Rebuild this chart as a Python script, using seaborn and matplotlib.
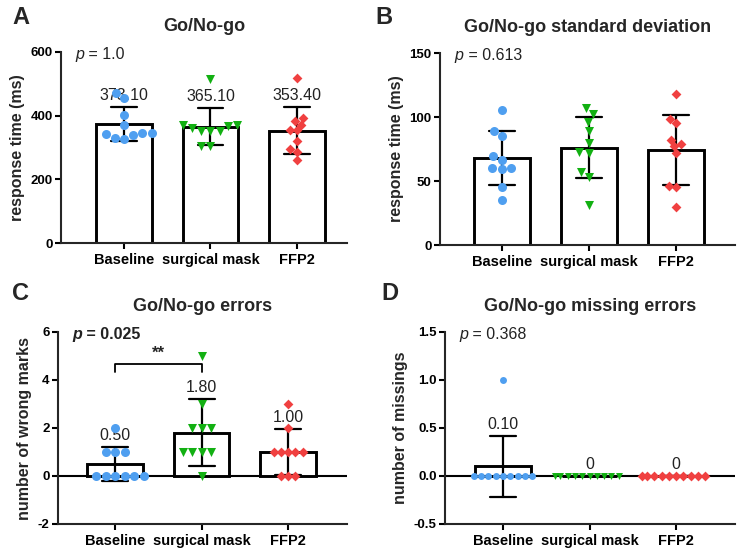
import matplotlib
matplotlib.use("Agg")
import matplotlib.pyplot as plt
import seaborn as sns
import pandas as pd
import warnings

warnings.filterwarnings("ignore")

categories = ["Baseline", "surgical mask", "FFP2"]

a_baseline = [472, 457, 401, 370, 347, 346, 341, 338, 331, 328]
a_surgical = [515, 370, 370, 368, 353, 353, 360, 352, 305, 305]
a_ffp2 = [518, 382, 393, 372, 354, 354, 319, 295, 285, 262]

b_baseline = [105.7, 89.2, 85.2, 69.9, 66.5, 60.5, 60.5, 59.2, 45.1, 35.2]
b_surgical = [107, 102, 96, 89, 80, 73, 72, 57, 53, 31]
b_ffp2 = [117.9, 95.7, 98.6, 78.8, 81.7, 77.0, 71.7, 46.2, 45.1, 29.5]

c_baseline = [2, 1, 1, 1, 0, 0, 0, 0, 0, 0]
c_surgical = [5, 3, 2, 2, 2, 1, 1, 1, 1, 0]
c_ffp2 = [3, 2, 1, 1, 1, 1, 1, 0, 0, 0]

d_baseline = [1, 0, 0, 0, 0, 0, 0, 0, 0, 0]
d_surgical = [0, 0, 0, 0, 0, 0, 0, 0, 0, 0]
d_ffp2 = [0, 0, 0, 0, 0, 0, 0, 0, 0, 0]

labels_a = ["373.10", "365.10", "353.40"]
labels_b = None
labels_c = ["0.50", "1.80", "1.00"]
labels_d = ["0.10", "0", "0"]

titles = ["Go/No-go", "Go/No-go standard deviation", "Go/No-go errors", "Go/No-go missing errors"]
ylabels = ["response time (ms)", "response time (ms)", "number of wrong marks", "number of missings"]
p_texts = ["1.0", "0.613", "0.025", "0.368"]

colors = ["#4f9ff0", "#12b012", "#f04040"]
markers = ["o", "v", "D"]
msizes = [6.5, 6.5, 5]

sns.set_style("ticks")
plt.rcParams["font.family"] = ["Liberation Sans", "DejaVu Sans"]


def make_df(groups):
    rows = []
    for cat, vals in zip(categories, groups):
        for v in vals:
            rows.append({"cond": cat, "val": v})
    return pd.DataFrame(rows)


fig = plt.figure(figsize=(7.46, 5.58), dpi=100)
W, H = 746, 558


def axes_px(l, r, t, b):
    return fig.add_axes([l / W, 1 - b / H, (r - l) / W, (b - t) / H])


axA = axes_px(61, 347, 52, 243)
axB = axes_px(440, 735, 53, 245)
axC = axes_px(58, 347, 332, 524)
axD = axes_px(445, 735, 332, 524)

panels = [
    (axA, [a_baseline, a_surgical, a_ffp2], labels_a, (0, 600), [0, 200, 400, 600], (-0.73, 2.58), "{:.0f}", False),
    (axB, [b_baseline, b_surgical, b_ffp2], labels_b, (0, 150), [0, 50, 100, 150], (-0.71, 2.68), "{:.0f}", False),
    (axC, [c_baseline, c_surgical, c_ffp2], labels_c, (-2, 6), [-2, 0, 2, 4, 6], (-0.66, 2.68), "{:.0f}", True),
    (axD, [d_baseline, d_surgical, d_ffp2], labels_d, (-0.5, 1.5), [-0.5, 0.0, 0.5, 1.0, 1.5], (-0.67, 2.68), "{:.1f}", True),
]

for idx, (ax, groups, labels, ylim, yticks, xlim, fmt, zeroline) in enumerate(panels):
    df = make_df(groups)
    if zeroline:
        ax.axhline(0, color="black", lw=1.5, zorder=1)
    sns.barplot(data=df, x="cond", y="val", order=categories, errorbar="sd",
                capsize=0.3, width=0.64, color="white", edgecolor="black",
                linewidth=2.1, err_kws={"color": "black", "linewidth": 1.6},
                ax=ax, zorder=2)
    for i, cat in enumerate(categories):
        sub = df[df["cond"] == cat]
        sz = msizes[i]
        if idx == 3:
            sz = 5
        sns.swarmplot(data=sub, x="cond", y="val", order=categories,
                      color=colors[i], marker=markers[i], size=sz,
                      linewidth=0, ax=ax, zorder=4)
    if labels is not None:
        for i, vals in enumerate(groups):
            s = pd.Series(vals)
            top = s.mean() + (s.std() if s.std() > 0 else 0)
            ax.annotate(labels[i], xy=(i, top), xytext=(0, 5), textcoords="offset points",
                        ha="center", va="baseline", fontsize=11.5, color="#222222")
    ax.set_ylim(*ylim)
    ax.set_yticks(yticks)
    ax.set_yticklabels([fmt.format(t) for t in yticks], fontweight="bold", fontsize=9.5)
    ax.set_xlim(*xlim)
    ax.set_xticks(range(3))
    ax.set_xticklabels(categories, fontweight="bold", fontsize=10.5)
    ax.set_xlabel("")
    ax.set_ylabel(ylabels[idx], fontweight="bold", fontsize=11.5, labelpad=4)
    ax.set_title(titles[idx], fontweight="bold", fontsize=13, pad=15)
    for sp in ["top", "right"]:
        ax.spines[sp].set_visible(False)
    for sp in ["left", "bottom"]:
        ax.spines[sp].set_linewidth(1.5)
    ax.tick_params(axis="both", width=1.5, length=4, pad=2, colors="black")
    ax.tick_params(axis="x", pad=3)
    bold = "bold" if idx == 2 else "normal"
    tp = ax.text(0.05, 0.985, "p", style="italic", fontweight=bold, fontsize=11.5,
                 transform=ax.transAxes, ha="left", va="center", color="#222222")
    ax.annotate(" = " + p_texts[idx], xy=(1, 0), xycoords=tp, ha="left", va="bottom",
                fontsize=11.5, fontweight=bold, color="#222222")

# significance bracket in panel C
axC.plot([0, 0, 1, 1], [4.33, 4.67, 4.67, 4.33], color="black", lw=1.3)
axC.text(0.5, 4.8, "**", ha="center", va="bottom", fontsize=12, fontweight="bold")

for letter, x, y in [("A", 12, 6), ("B", 375, 6), ("C", 12, 282), ("D", 381, 282)]:
    fig.text(x / W, 1 - y / H, letter, ha="left", va="top", fontsize=17, fontweight="bold")

fig.savefig("out.png", dpi=100)
